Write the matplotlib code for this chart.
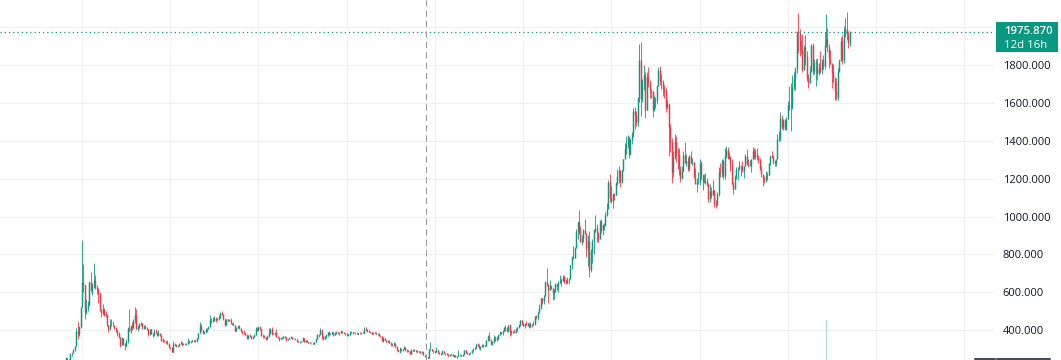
import matplotlib
matplotlib.use("Agg")
import matplotlib.pyplot as plt
from matplotlib.collections import LineCollection
from matplotlib.patches import Rectangle
from matplotlib.lines import Line2D

# ---------------- data (monthly gold candles, Jul 1978 .. Jul 2023) ----------------
start_year, start_month = 1978, 7
first_open = 184.0

closes = [
    200, 208, 217, 242, 194, 226,
    233, 251, 240, 245, 275, 277, 296, 315, 397, 382, 415, 524,
    653, 637, 494, 518, 535, 653, 614, 631, 666, 629, 619, 590,
    506, 489, 514, 482, 480, 426, 406, 425, 428, 427, 414, 400,
    387, 362, 320, 361, 325, 317, 342, 411, 397, 423, 414, 456,
    481, 408, 414, 429, 437, 416, 422, 414, 405, 382, 405, 381,
    373, 394, 388, 375, 384, 373, 342, 348, 341, 333, 329, 309,
    306, 287, 329, 321, 314, 317, 327, 333, 325, 325, 325, 327,
    345, 338, 344, 345, 343, 345, 357, 384, 423, 402, 384, 391,
    405, 405, 419, 452, 452, 448, 463, 454, 460, 468, 492, 484,
    458, 427, 457, 450, 456, 436, 437, 430, 397, 412, 423, 410,
    394, 387, 383, 377, 361, 373, 368, 359, 366, 376, 408, 401,
    415, 407, 368, 367, 363, 352, 372, 387, 408, 380, 383, 386,
    366, 362, 355, 357, 361, 368, 362, 347, 355, 357, 366, 353,
    354, 353, 341, 337, 337, 343, 357, 340, 349, 339, 334, 333,
    330, 327, 337, 354, 378, 378, 401, 371, 355, 370, 370, 391,
    378, 381, 389, 376, 387, 388, 384, 385, 394, 389, 383, 383,
    375, 376, 392, 389, 384, 387, 383, 382, 384, 383, 387, 387,
    405, 400, 396, 392, 390, 382, 385, 387, 379, 379, 371, 369,
    345, 358, 348, 340, 345, 334, 326, 325, 332, 311, 296, 290,
    302, 297, 301, 310, 293, 296, 288, 273, 294, 292, 294, 288,
    287, 288, 279, 286, 268, 262, 255, 254, 299, 299, 291, 290,
    283, 294, 277, 274, 272, 288, 277, 278, 273, 264, 270, 272,
    266, 267, 258, 263, 267, 271, 265, 273, 293, 279, 275, 279,
    282, 297, 302, 308, 326, 318, 305, 312, 324, 317, 319, 347,
    368, 347, 334, 336, 361, 346, 354, 375, 388, 386, 398, 416,
    399, 396, 427, 388, 394, 395, 391, 407, 415, 429, 452, 438,
    422, 435, 428, 436, 417, 435, 429, 433, 473, 470, 495, 517,
    569, 556, 583, 654, 643, 614, 633, 624, 599, 604, 646, 632,
    651, 665, 662, 679, 657, 650, 665, 672, 743, 789, 783, 834,
    923, 971, 916, 865, 886, 928, 913, 833, 872, 718, 815, 869,
    928, 942, 916, 883, 979, 927, 955, 955, 1008, 1039, 1182, 1096,
    1081, 1118, 1113, 1179, 1212, 1244, 1181, 1247, 1307, 1357, 1385, 1421,
    1333, 1410, 1439, 1556, 1536, 1500, 1628, 1828, 1620, 1722, 1746, 1565,
    1739, 1710, 1668, 1664, 1561, 1604, 1614, 1691, 1773, 1719, 1713, 1675,
    1663, 1578, 1596, 1472, 1393, 1234, 1313, 1396, 1327, 1323, 1250, 1202,
    1240, 1326, 1284, 1296, 1250, 1322, 1282, 1287, 1210, 1172, 1182, 1184,
    1284, 1213, 1183, 1184, 1190, 1172, 1095, 1133, 1115, 1142, 1065, 1061,
    1118, 1238, 1233, 1293, 1215, 1322, 1351, 1309, 1316, 1277, 1173, 1146,
    1211, 1249, 1249, 1268, 1269, 1242, 1269, 1322, 1280, 1271, 1275, 1303,
    1345, 1318, 1325, 1315, 1298, 1253, 1224, 1201, 1192, 1215, 1222, 1282,
    1321, 1313, 1292, 1284, 1305, 1409, 1413, 1520, 1472, 1513, 1464, 1517,
    1589, 1585, 1577, 1687, 1730, 1781, 1975, 1968, 1886, 1879, 1776, 1898,
    1847, 1734, 1708, 1769, 1907, 1770, 1814, 1814, 1757, 1783, 1774, 1829,
    1797, 1909, 1937, 1897, 1837, 1807, 1766, 1711, 1661, 1633, 1768, 1824,
    1928, 1827, 1969, 1990, 1963, 1919, 1975.87,
]

highs = [
    201, 212, 219, 245, 243, 226,
    238, 256, 251, 246, 279, 282, 303, 316, 412, 447, 420, 524,
    876, 749, 645, 564, 552, 662, 710, 651, 757, 694, 640, 624,
    600, 510, 541, 518, 500, 488, 425, 460, 460, 450, 430, 418,
    400, 390, 362, 365, 360, 330, 354, 415, 512, 430, 445, 459,
    523, 511, 430, 440, 445, 440, 430, 425, 418, 405, 406, 406,
    385, 405, 406, 390, 400, 380, 375, 357, 350, 345, 350, 330,
    310, 310, 345, 330, 325, 320, 330, 345, 336, 330, 330, 330,
    360, 350, 345, 350, 350, 350, 360, 385, 443, 435, 402, 395,
    411, 410, 420, 480, 465, 470, 475, 468, 463, 482, 498, 502,
    486, 457, 457, 457, 460, 464, 440, 442, 430, 415, 428, 428,
    413, 398, 400, 393, 380, 375, 380, 372, 370, 379, 417, 418,
    424, 423, 408, 380, 375, 365, 375, 414, 410, 415, 385, 392,
    404, 368, 365, 364, 362, 370, 370, 360, 355, 362, 370, 365,
    359, 361, 352, 342, 342, 345, 364, 357, 350, 348, 339, 338,
    335, 331, 340, 357, 378, 380, 410, 407, 370, 372, 381, 392,
    395, 387, 394, 392, 390, 396, 390, 390, 400, 396, 393, 386,
    382, 380, 397, 396, 392, 392, 389, 389, 387, 388, 389, 389,
    418, 417, 407, 401, 396, 393, 388, 391, 388, 386, 386, 373,
    369, 364, 360, 349, 350, 346, 336, 330, 337, 333, 315, 298,
    309, 307, 303, 316, 310, 299, 297, 288, 300, 302, 299, 297,
    295, 291, 290, 292, 290, 267, 264, 259, 300, 339, 302, 291,
    292, 313, 298, 287, 279, 293, 288, 280, 277, 274, 272, 274,
    273, 268, 268, 266, 294, 275, 271, 276, 294, 293, 283, 281,
    284, 298, 305, 311, 328, 330, 327, 318, 326, 325, 323, 349,
    373, 390, 352, 341, 376, 370, 367, 378, 395, 392, 400, 417,
    426, 418, 428, 432, 399, 398, 406, 411, 418, 432, 455, 456,
    442, 437, 446, 437, 436, 443, 432, 447, 474, 479, 496, 538,
    569, 572, 587, 660, 730, 643, 665, 641, 625, 620, 650, 649,
    660, 690, 674, 693, 690, 672, 679, 675, 745, 794, 845, 840,
    934, 975, 1033, 952, 903, 937, 987, 916, 905, 922, 828, 881,
    937, 1006, 960, 920, 981, 990, 960, 965, 1023, 1070, 1195, 1227,
    1161, 1127, 1127, 1181, 1249, 1265, 1212, 1248, 1307, 1388, 1424, 1431,
    1424, 1411, 1447, 1575, 1577, 1560, 1632, 1911, 1920, 1725, 1803, 1764,
    1764, 1791, 1722, 1676, 1665, 1640, 1630, 1693, 1790, 1796, 1755, 1723,
    1694, 1679, 1616, 1598, 1488, 1417, 1347, 1434, 1424, 1362, 1361, 1268,
    1270, 1345, 1392, 1331, 1315, 1326, 1345, 1312, 1288, 1255, 1206, 1238,
    1307, 1293, 1224, 1224, 1232, 1205, 1175, 1170, 1157, 1191, 1142, 1088,
    1128, 1263, 1283, 1303, 1304, 1362, 1375, 1367, 1343, 1318, 1306, 1182,
    1220, 1264, 1261, 1295, 1270, 1296, 1270, 1331, 1357, 1306, 1300, 1307,
    1366, 1361, 1356, 1365, 1326, 1309, 1266, 1219, 1214, 1243, 1237, 1284,
    1326, 1347, 1324, 1301, 1306, 1439, 1453, 1555, 1535, 1518, 1516, 1525,
    1611, 1689, 1704, 1748, 1765, 1789, 1981, 2075, 1992, 1933, 1966, 1906,
    1959, 1873, 1755, 1798, 1913, 1917, 1832, 1834, 1837, 1814, 1877, 1831,
    1853, 1974, 2070, 1998, 1910, 1879, 1814, 1808, 1735, 1730, 1786, 1833,
    1949, 1960, 2009, 2049, 2079, 1983, 1982,
]

lows = [
    184, 199, 207, 215, 193, 195,
    216, 232, 236, 233, 245, 265, 277, 289, 316, 351, 372, 413,
    525, 600, 461, 485, 500, 535, 603, 586, 625, 620, 592, 545,
    499, 471, 479, 474, 468, 424, 390, 400, 420, 420, 408, 391,
    372, 358, 312, 322, 320, 297, 315, 335, 395, 385, 403, 412,
    440, 405, 398, 412, 425, 408, 408, 405, 402, 372, 373, 378,
    365, 372, 385, 372, 370, 371, 342, 337, 336, 333, 328, 305,
    300, 284, 285, 316, 311, 310, 315, 328, 317, 323, 320, 320,
    328, 334, 330, 338, 337, 340, 340, 355, 383, 397, 382, 380,
    389, 393, 405, 420, 440, 443, 448, 445, 455, 455, 465, 478,
    456, 423, 425, 448, 450, 435, 430, 425, 395, 395, 410, 408,
    391, 382, 380, 376, 355, 356, 364, 355, 356, 364, 375, 398,
    397, 400, 368, 361, 361, 346, 351, 365, 382, 376, 379, 375,
    364, 358, 343, 353, 352, 360, 358, 343, 346, 354, 357, 353,
    352, 350, 340, 336, 333, 336, 341, 338, 339, 338, 330, 330,
    326, 326, 326, 338, 353, 365, 377, 355, 349, 356, 360, 367,
    374, 373, 378, 372, 376, 380, 381, 376, 385, 385, 380, 375,
    372, 372, 373, 387, 380, 383, 382, 380, 381, 381, 382, 385,
    386, 397, 393, 389, 386, 380, 380, 384, 378, 377, 369, 366,
    344, 339, 346, 337, 336, 333, 315, 316, 318, 309, 292, 283,
    278, 291, 291, 299, 292, 285, 287, 272, 273, 290, 289, 286,
    285, 283, 278, 277, 267, 256, 252, 252, 254, 293, 290, 281,
    281, 283, 278, 273, 270, 272, 276, 270, 271, 263, 262, 268,
    263, 256, 256, 255, 264, 265, 264, 265, 271, 277, 272, 271,
    276, 282, 290, 299, 307, 317, 302, 298, 313, 313, 315, 316,
    342, 345, 324, 320, 335, 342, 342, 354, 376, 380, 377, 394,
    395, 393, 390, 371, 375, 386, 387, 386, 398, 412, 424, 429,
    420, 411, 425, 422, 414, 415, 417, 430, 430, 458, 456, 489,
    514, 540, 537, 582, 633, 542, 612, 618, 560, 567, 605, 611,
    602, 650, 636, 661, 650, 642, 649, 642, 675, 725, 776, 783,
    846, 883, 906, 864, 849, 866, 906, 786, 740, 681, 705, 753,
    802, 920, 866, 866, 882, 914, 905, 931, 950, 1004, 1044, 1075,
    1072, 1045, 1088, 1114, 1166, 1180, 1155, 1175, 1243, 1314, 1330, 1360,
    1308, 1326, 1381, 1423, 1462, 1478, 1481, 1603, 1534, 1604, 1669, 1523,
    1563, 1687, 1628, 1627, 1527, 1556, 1572, 1597, 1690, 1694, 1673, 1636,
    1626, 1555, 1566, 1322, 1339, 1180, 1208, 1302, 1291, 1251, 1222, 1182,
    1200, 1239, 1284, 1268, 1241, 1240, 1281, 1273, 1205, 1183, 1131, 1170,
    1167, 1197, 1142, 1175, 1170, 1162, 1077, 1077, 1098, 1115, 1053, 1046,
    1061, 1110, 1208, 1208, 1200, 1200, 1311, 1302, 1305, 1241, 1171, 1122,
    1146, 1200, 1195, 1244, 1214, 1236, 1204, 1266, 1272, 1260, 1265, 1236,
    1302, 1307, 1303, 1301, 1281, 1246, 1211, 1160, 1180, 1182, 1196, 1221,
    1275, 1310, 1280, 1266, 1267, 1310, 1400, 1400, 1465, 1458, 1456, 1459,
    1517, 1562, 1451, 1567, 1671, 1671, 1757, 1863, 1849, 1860, 1765, 1775,
    1802, 1717, 1677, 1720, 1766, 1750, 1751, 1688, 1722, 1746, 1759, 1753,
    1780, 1780, 1895, 1872, 1787, 1805, 1681, 1709, 1615, 1618, 1617, 1765,
    1823, 1804, 1810, 1949, 1932, 1893, 1903,
]

price_ticks = [400, 600, 800, 1000, 1200, 1400, 1600, 1800, 2000]
grid_years = [1975, 1980, 1985, 1990, 1995, 2000, 2005, 2010, 2015, 2020, 2025, 2030]
volume_dates = [(2022, 3)]
volume_values = [1.0]
crosshair_date = (1999, 7)
countdown_text = "12d 16h"

# ---------------- derived ----------------
n = len(closes)
assert len(highs) == n and len(lows) == n, (len(closes), len(highs), len(lows))
opens = [first_open] + closes[:-1]


def month_index(y, m):
    return (y - 1980) * 12 + (m - 1)


t0 = month_index(start_year, start_month)
tx = [t0 + i for i in range(n)]

UP = "#089981"
DOWN = "#f23645"

W, H = 1061, 360
fig = plt.figure(figsize=(W / 100, H / 100), dpi=100)
plot_w = 994
ax = fig.add_axes([0, 0, plot_w / W, 1])

px_per_month = 1.4704
x_zero_px = 82.0
ax.set_xlim(-x_zero_px / px_per_month, (plot_w - x_zero_px) / px_per_month)
ax.set_ylim(242.6, 2144.3)

for s in ax.spines.values():
    s.set_visible(False)

# grid
for p in price_ticks:
    ax.axhline(p, color="#f0f0f0", lw=0.75, zorder=0)
for gy in grid_years:
    ax.axvline(month_index(gy, 1), color="#f0f0f0", lw=0.75, zorder=0)

# candles
wick_segs, wick_cols, body_segs, body_cols = [], [], [], []
for x, o, h, l, c in zip(tx, opens, highs, lows, closes):
    col = UP if c >= o else DOWN
    wick_segs.append([(x, l), (x, h)])
    wick_cols.append(col)
    lo, hi = min(o, c), max(o, c)
    if hi - lo < 3:
        hi = lo + 3
    body_segs.append([(x, lo), (x, hi)])
    body_cols.append(col)

ax.add_collection(LineCollection(wick_segs, colors=wick_cols, linewidths=0.6,
                                 capstyle="butt", zorder=3))
ax.add_collection(LineCollection(body_segs, colors=body_cols, linewidths=1.05,
                                 capstyle="butt", zorder=4))

# volume (overlay axes)
axv = fig.add_axes([0, 0, plot_w / W, 1], sharex=ax)
axv.set_ylim(0, max(volume_values) / 0.111)
axv.axis("off")
axv.bar([month_index(y, m) for y, m in volume_dates], volume_values, width=0.7,
        color="#a8d9d0", zorder=1)
axv.set_xlim(ax.get_xlim())

# last price line
last = closes[-1]
ax.axhline(last, color=UP, lw=0.9, linestyle=(0, (1, 2.4)), zorder=5)

# crosshair
ax.axvline(month_index(*crosshair_date), color="#9598a1", lw=0.75,
           linestyle=(0, (6, 4)), zorder=6)

# price scale
ax.yaxis.tick_right()
ax.set_yticks(price_ticks)
ax.set_yticklabels([f"{p:.3f}" for p in price_ticks])
ax.tick_params(axis="y", length=0, pad=6.3, labelsize=8, labelcolor="#131722")
for lab in ax.get_yticklabels():
    lab.set_fontfamily(["Open Sans", "DejaVu Sans"])
ax.set_xticks([])

# last price label
bx0, bx1, by0, by1 = 996, 1058, 22, 52
fig.patches.append(Rectangle((bx0 / W, 1 - by1 / H), (bx1 - bx0) / W, (by1 - by0) / H,
                             transform=fig.transFigure, facecolor=UP, edgecolor="none",
                             zorder=10))
fig.text(1004 / W, 1 - 31.5 / H, f"{last:.3f}", color="white", fontsize=8.2,
         family=["Open Sans", "DejaVu Sans"], fontweight="semibold",
         va="center", ha="left", zorder=11)
fig.text(1004 / W, 1 - 45.0 / H, countdown_text, color="white", fontsize=8.2,
         family=["Open Sans", "DejaVu Sans"], va="center", ha="left", zorder=11)

# small dark marks at bottom of scale
for xa, xb in [(975, 995), (997, 1050)]:
    fig.add_artist(Line2D([xa / W, xb / W], [1 - 358.6 / H] * 2, color="#131722",
                          lw=1.1, transform=fig.transFigure, zorder=10))

fig.savefig("out.png", dpi=100)
